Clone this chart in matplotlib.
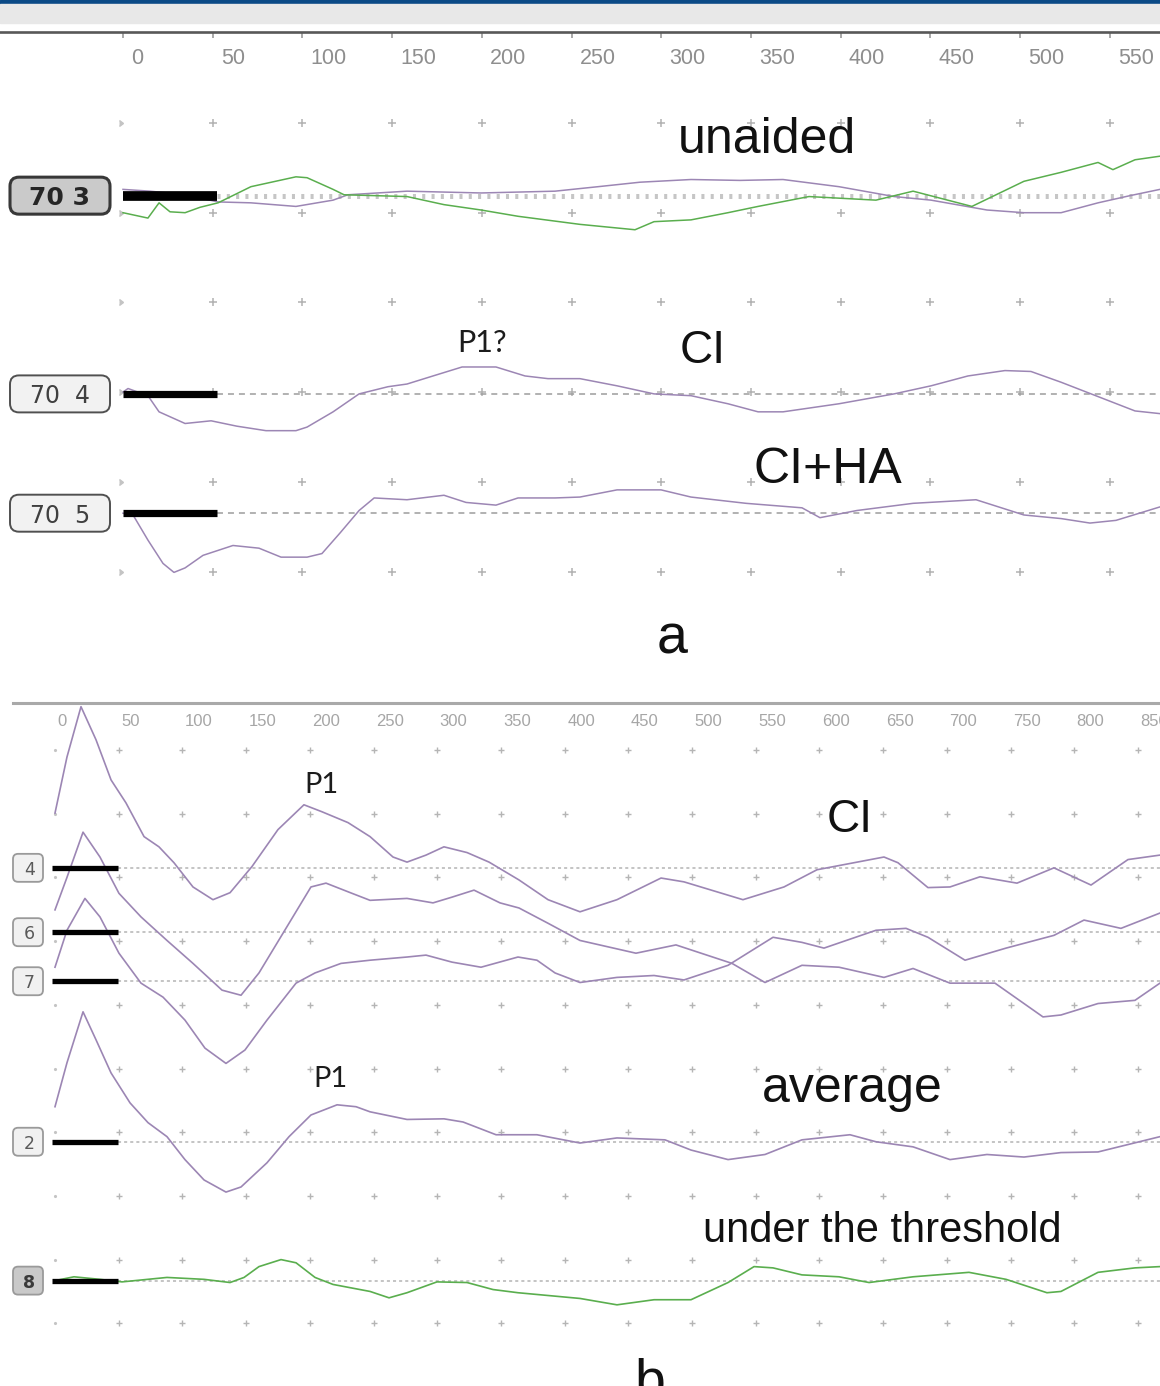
import matplotlib
matplotlib.use("Agg")
import matplotlib.pyplot as plt
import numpy as np
from matplotlib.patches import FancyBboxPatch, Rectangle
from matplotlib import font_manager

plt.rcParams['lines.scale_dashes'] = False

def pick(*names):
    avail = {f.name for f in font_manager.fontManager.ttflist}
    for n in names:
        if n in avail:
            return n
    return 'DejaVu Sans'

NARROW = pick('Liberation Sans Narrow', 'Liberation Sans', 'DejaVu Sans')
NARROW_SIZE = 17.5 if NARROW == 'Liberation Sans Narrow' else 15.5
ARIAL = pick('Liberation Sans', 'Arial', 'DejaVu Sans')
CAL = pick('Lato', 'Open Sans', 'DejaVu Sans')

# ------------------------------------------------------------------ data
# latency in ms, amplitude in grid divisions (positive = up) relative to channel baseline

# ---- panel a
a_ticks = [0, 50, 100, 150, 200, 250, 300, 350, 400, 450, 500, 550]
a_rows = [0, -1, -2, -3, -4, -5]
a_baselines = {'70 3': -0.81, '70 4': -3.02, '70 5': -4.35}

a_unaided_green_t = [0, 13.9, 20.1, 26.2, 34.6, 42.9, 53.0, 59.1, 71.3, 96.4, 102.6, 117.1, 123.2,
                     158.3, 178.9, 199.6, 220.2, 254.7, 285.4, 296.0, 316.6, 337.2, 354.0, 382.4,
                     419.7, 440.4, 473.2, 502.2, 522.9, 543.5, 551.8, 564.1, 578.0]
a_unaided_green_v = [-0.19, -0.25, -0.08, -0.18, -0.19, -0.13, -0.08, -0.02, 0.10, 0.21, 0.20, 0.07, 0.01,
                     -0.01, -0.10, -0.16, -0.23, -0.32, -0.38, -0.29, -0.27, -0.19, -0.12, -0.01,
                     -0.05, 0.05, -0.12, 0.16, 0.26, 0.37, 0.29, 0.40, 0.44]

a_unaided_purple_t = [0, 15.1, 34.6, 53.0, 71.3, 96.4, 117.1, 125.4, 158.3, 199.6, 240.8, 264.8, 288.2,
                      316.6, 343.9, 367.9, 399.1, 429.8, 450.4, 481.6, 502.2, 522.9, 543.5, 561.3, 578.0]
a_unaided_purple_v = [0.07, 0.05, 0.01, -0.07, -0.08, -0.12, -0.05, 0.01, 0.05, 0.03, 0.05, 0.10, 0.15,
                      0.18, 0.17, 0.18, 0.10, -0.01, -0.05, -0.16, -0.19, -0.19, -0.08, 0.0, 0.07]

a_ci_t = [0, 2.8, 13.9, 20.1, 34.6, 49.1, 63.5, 79.7, 96.4, 102.6, 117.1, 131.6, 147.7, 158.3, 172.8,
          189.0, 207.9, 224.1, 236.9, 254.7, 275.4, 296.0, 316.6, 337.2, 354.0, 367.9, 399.1, 429.8,
          450.4, 471.0, 491.6, 506.1, 522.9, 543.5, 564.1, 578.0]
a_ci_v = [0.02, 0.06, -0.02, -0.20, -0.33, -0.30, -0.36, -0.41, -0.41, -0.37, -0.20, 0.0, 0.08, 0.11, 0.20,
          0.30, 0.30, 0.20, 0.17, 0.17, 0.09, 0.0, -0.02, -0.11, -0.20, -0.20, -0.11, 0.0,
          0.09, 0.20, 0.26, 0.25, 0.13, -0.03, -0.19, -0.22]

a_ciha_t = [0, 5.6, 13.9, 22.3, 28.4, 34.6, 44.6, 61.3, 75.8, 88.1, 102.6, 110.9, 121.0, 131.6, 140.0,
            158.3, 178.9, 191.2, 207.9, 220.2, 240.8, 254.7, 275.4, 299.9, 316.6, 347.3, 378.5, 388.5,
            409.1, 440.4, 475.5, 502.2, 522.9, 539.0, 553.5, 578.0]
a_ciha_v = [0, -0.02, -0.30, -0.56, -0.66, -0.61, -0.47, -0.36, -0.39, -0.49, -0.49, -0.45, -0.22, 0.03, 0.17,
            0.15, 0.20, 0.12, 0.09, 0.17, 0.17, 0.18, 0.26, 0.26, 0.18, 0.11, 0.06, -0.05,
            0.03, 0.11, 0.15, -0.02, -0.06, -0.11, -0.08, 0.07]

# ---- panel b
b_ticks = [0, 50, 100, 150, 200, 250, 300, 350, 400, 450, 500, 550, 600, 650, 700, 750, 800, 850]
b_rows = [0, -1, -2, -3, -4, -5, -6, -7, -8, -9]
b_baselines = {'4': -1.85, '6': -2.86, '7': -3.63, '2': -6.15, '8': -8.33}

b4_t = [0, 9.4, 20.4, 32.2, 44.0, 55.7, 69.9, 81.6, 93.4, 108.3, 124.0, 137.4, 154.6, 175.0, 195.4,
        209.6, 230.0, 247.3, 265.3, 276.3, 291.2, 305.3, 323.4, 340.7, 364.2, 387.0, 412.1, 441.1,
        475.7, 493.7, 540.0, 572.2, 598.1, 650.7, 661.7, 685.2, 702.5, 726.1, 755.1, 784.1, 813.2,
        842.2, 867.3]
b4_v = [0.86, 1.74, 2.53, 2.01, 1.38, 1.02, 0.49, 0.33, 0.08, -0.30, -0.50, -0.39, 0.02, 0.60, 0.99,
        0.88, 0.71, 0.49, 0.17, 0.09, 0.20, 0.33, 0.24, 0.09, -0.19, -0.50, -0.69, -0.50,
        -0.16, -0.22, -0.50, -0.30, -0.03, 0.17, 0.08, -0.31, -0.30, -0.14, -0.24, 0.0, -0.27,
        0.13, 0.20]

b6_t = [0, 9.4, 22.0, 35.3, 50.2, 67.5, 87.9, 108.3, 131.1, 146.0, 160.1, 183.7, 200.9, 212.7, 233.1,
        247.3, 276.3, 296.7, 311.6, 328.9, 349.3, 364.2, 387.0, 412.1, 456.0, 487.4, 531.4, 557.3,
        586.3, 615.4, 650.7, 673.5, 702.5, 737.8, 775.5, 789.6, 818.7, 847.7, 867.3]
b6_v = [0.35, 0.86, 1.57, 1.18, 0.61, 0.24, -0.13, -0.49, -0.91, -0.99, -0.64, 0.14, 0.71, 0.77, 0.61,
        0.50, 0.53, 0.46, 0.55, 0.66, 0.46, 0.38, 0.14, -0.13, -0.33, -0.20, -0.49, -0.79,
        -0.52, -0.55, -0.71, -0.57, -0.80, -0.80, -1.33, -1.30, -1.12, -1.07, -0.80]

b7_t = [0, 9.4, 23.5, 35.3, 50.2, 67.5, 84.8, 102.0, 117.7, 134.2, 149.1, 166.4, 189.2, 204.1, 224.5,
        247.3, 276.3, 291.2, 311.6, 334.4, 363.4, 378.3, 392.5, 412.1, 441.1, 470.2, 493.7, 528.3,
        563.6, 586.3, 603.6, 644.4, 668.0, 685.2, 714.3, 746.5, 784.1, 807.7, 836.7, 867.3]
b7_v = [0.22, 0.80, 1.30, 1.01, 0.44, -0.03, -0.25, -0.61, -1.05, -1.29, -1.08, -0.61, -0.03, 0.13, 0.28,
        0.33, 0.38, 0.41, 0.30, 0.22, 0.38, 0.33, 0.13, -0.02, 0.06, 0.09, 0.02, 0.25,
        0.69, 0.61, 0.52, 0.80, 0.83, 0.69, 0.33, 0.52, 0.72, 0.96, 0.83, 1.07]

b2_t = [0, 9.4, 22.0, 32.2, 44.0, 58.9, 73.0, 87.9, 102.0, 117.0, 134.2, 146.0, 166.4, 183.7, 200.9,
        221.4, 236.3, 247.3, 276.3, 305.3, 320.3, 346.2, 378.3, 412.1, 441.1, 478.8, 499.2, 528.3,
        557.3, 586.3, 624.0, 644.4, 673.5, 702.5, 731.5, 760.6, 789.6, 818.7, 867.3]
b2_v = [0.55, 1.24, 2.04, 1.60, 1.08, 0.61, 0.30, 0.08, -0.28, -0.60, -0.79, -0.71, -0.33, 0.08, 0.42,
        0.58, 0.55, 0.47, 0.35, 0.36, 0.31, 0.11, 0.11, -0.02, 0.06, 0.03, -0.13, -0.28,
        -0.20, 0.03, 0.11, 0.0, -0.08, -0.28, -0.20, -0.24, -0.17, -0.16, 0.08]

b8_t = [0, 14.9, 35.3, 52.6, 87.9, 117.0, 137.4, 148.4, 160.1, 177.4, 189.2, 204.1, 218.2, 247.3, 262.2,
        276.3, 299.8, 323.4, 343.8, 363.4, 412.1, 441.1, 470.2, 499.2, 528.3, 548.7, 563.6, 586.3,
        615.4, 639.0, 673.5, 717.4, 746.5, 778.6, 789.6, 818.7, 847.7, 867.3]
b8_v = [0, 0.06, 0.02, -0.02, 0.05, 0.02, -0.03, 0.05, 0.22, 0.33, 0.28, 0.05, -0.06, -0.17, -0.27,
        -0.19, -0.02, -0.03, -0.14, -0.19, -0.28, -0.38, -0.30, -0.30, -0.03, 0.22, 0.20, 0.09,
        0.06, -0.03, 0.06, 0.13, 0.02, -0.19, -0.17, 0.13, 0.20, 0.22]

# ------------------------------------------------------------------ style
PURPLE = '#9c86b4'
GREEN = '#5aae4e'
W, H = 1160, 1386

fig = plt.figure(figsize=(W / 100, H / 100), dpi=100)
fig.patches.append(Rectangle((0, 1 - 4 / H), 1, 4 / H, transform=fig.transFigure,
                             color='#0b4a86', zorder=0))
fig.patches.append(Rectangle((0, 1 - 23 / H), 1, 19 / H, transform=fig.transFigure,
                             color='#e8e8e8', zorder=0))

# ================================================================== panel a
A_MS = 89.7 / 50.0   # px per ms
A_DIV = 89.7         # px per division
axa = fig.add_axes([0, 1 - 690 / H, 1, (690 - 32) / H])
axa.set_xlim(-123 / A_MS, (W - 123) / A_MS)
axa.set_ylim((123 - 690) / A_DIV, (123 - 32) / A_DIV)
for s in ('left', 'right', 'bottom'):
    axa.spines[s].set_visible(False)
axa.spines['top'].set_color('#585858')
axa.spines['top'].set_linewidth(1.9)
axa.set_yticks([])
axa.set_xticks(a_ticks)
axa.tick_params(axis='x', top=True, bottom=False, labeltop=False, labelbottom=False,
                direction='in', length=4, width=1.2, color='#9a9a9a')
axa.set_facecolor('none')

for t in a_ticks:
    axa.text(t + 4.5, 0.715, str(t), ha='left', va='center', fontsize=NARROW_SIZE,
             family=NARROW, color='#8e8e8e')

gx, gy = np.meshgrid(a_ticks[1:], a_rows)
axa.plot(gx.ravel(), gy.ravel(), ls='none', marker='+', ms=6, mew=1.1, color='#b2b2b2', zorder=1)
axa.plot([a_ticks[0]] * len(a_rows), a_rows, ls='none', marker=5, ms=4, color='#c4c4c4', zorder=1)

xmax_a = axa.get_xlim()[1]
BAR_A = 52.4
off = a_baselines['70 3']
axa.plot([BAR_A, xmax_a], [off, off], color='#c6c6c6', lw=3.6, dashes=(2.2, 4.5), zorder=2)
for ch in ('70 4', '70 5'):
    off = a_baselines[ch]
    axa.plot([BAR_A, xmax_a], [off, off], color='#9c9c9c', lw=1.1, dashes=(4.3, 3.6), zorder=2)

off = a_baselines['70 3']
axa.plot(a_unaided_purple_t, np.array(a_unaided_purple_v) + off, color=PURPLE, lw=1.1, zorder=3)
axa.plot(a_unaided_green_t, np.array(a_unaided_green_v) + off, color=GREEN, lw=1.1, zorder=3)
off = a_baselines['70 4']
axa.plot(a_ci_t, np.array(a_ci_v) + off, color=PURPLE, lw=1.1, zorder=3)
off = a_baselines['70 5']
axa.plot(a_ciha_t, np.array(a_ciha_v) + off, color=PURPLE, lw=1.1, zorder=3)

ASP = A_MS / A_DIV
for ch, off in a_baselines.items():
    sel = ch == '70 3'
    axa.plot([0, BAR_A], [off, off], color='black', lw=7 if sel else 5.2,
             solid_capstyle='butt', zorder=4)
    bw, bh = 100 / A_MS, 37 / A_DIV
    cx = (60 - 123) / A_MS
    box = FancyBboxPatch((cx - bw / 2, off - bh / 2), bw, bh,
                         boxstyle='round,pad=0,rounding_size=5', mutation_aspect=ASP,
                         facecolor='#cacaca' if sel else '#f2f2f2',
                         edgecolor='#383838' if sel else '#505050',
                         lw=2.2 if sel else 1.4, zorder=5, clip_on=False)
    axa.add_patch(box)
    axa.text(cx, off, ch.replace(' ', '  ') if not sel else ch, ha='center',
             va='center_baseline', fontsize=18 if sel else 17,
             family='DejaVu Sans', fontweight='bold' if sel else 'normal',
             color='#262626' if sel else '#404040', zorder=6)

axa.text(309, -0.334, 'unaided', family=ARIAL, fontsize=36, color='#111111', va='baseline', zorder=6)
axa.text(186.5, -2.553, 'P1?', family=CAL, fontsize=22, color='#1c1c1c', va='baseline', zorder=6)
axa.text(310.5, -2.676, 'CI', family=ARIAL, fontsize=33, color='#111111', va='baseline', zorder=6)
axa.text(351.5, -4.013, 'CI+HA', family=ARIAL, fontsize=36, color='#111111', va='baseline', zorder=6)
axa.text(297.5, -5.909, 'a', family=ARIAL, fontsize=40, color='#111111', va='baseline', zorder=6)

# ================================================================== panel b
B_MS = 63.7 / 50.0
B_DIV = 63.7
axb = fig.add_axes([0, 0, 1, (H - 703) / H])
axb.set_xlim(-55 / B_MS, (W - 55) / B_MS)
axb.set_ylim((750 - H) / B_DIV, (750 - 703) / B_DIV)
for s in ('left', 'right', 'bottom'):
    axb.spines[s].set_visible(False)
axb.spines['top'].set_color('#a9a9a9')
axb.spines['top'].set_linewidth(2.2)
axb.spines['top'].set_bounds((13 - 55) / B_MS, axb.get_xlim()[1])
axb.set_xticks([])
axb.set_yticks([])
axb.set_facecolor('none')

for t in b_ticks:
    axb.text(t + 2.0, 0.455, str(t), ha='left', va='center', fontsize=12,
             family=ARIAL, color='#a6a6a6', clip_on=False)

gx, gy = np.meshgrid(b_ticks[1:], b_rows)
axb.plot(gx.ravel(), gy.ravel(), ls='none', marker='+', ms=4.6, mew=1.0, color='#b5b5b5', zorder=1)
axb.plot([b_ticks[0]] * len(b_rows), b_rows, ls='none', marker='.', ms=2.5, color='#c4c4c4', zorder=1)

xmax_b = axb.get_xlim()[1]
BAR_B = 49.5
for ch, off in b_baselines.items():
    axb.plot([BAR_B, xmax_b], [off, off], color='#b4b4b4', lw=1.1, dashes=(2.2, 2.2), zorder=2)

for (tt, vv, ch, col) in ((b4_t, b4_v, '4', PURPLE), (b6_t, b6_v, '6', PURPLE),
                          (b7_t, b7_v, '7', PURPLE), (b2_t, b2_v, '2', PURPLE),
                          (b8_t, b8_v, '8', GREEN)):
    axb.plot(tt, np.array(vv) + b_baselines[ch], color=col, lw=1.2, zorder=3,
             solid_joinstyle='round')

ASPB = B_MS / B_DIV
for ch, off in b_baselines.items():
    sel = ch == '8'
    axb.plot([(52 - 55) / B_MS, BAR_B], [off, off], color='black', lw=3.8,
             solid_capstyle='butt', zorder=4)
    bw, bh = 30 / B_MS, 28 / B_DIV
    cx = (28 - 55) / B_MS
    box = FancyBboxPatch((cx - bw / 2, off - bh / 2), bw, bh,
                         boxstyle='round,pad=0,rounding_size=4', mutation_aspect=ASPB,
                         facecolor='#c9c9c9' if sel else '#f1f1f1',
                         edgecolor='#9a9a9a', lw=1.3, zorder=5, clip_on=False)
    axb.add_patch(box)
    axb.text(cx + 1, off, ch, ha='center', va='center_baseline', fontsize=12.5,
             family='DejaVu Sans', fontweight='bold' if sel else 'normal',
             color='#3a3a3a' if sel else '#5a5a5a', zorder=6)

axb.text(196, -0.675, 'P1', family=CAL, fontsize=21, color='#1c1c1c', va='baseline', zorder=6)
axb.text(605.5, -1.287, 'CI', family=ARIAL, fontsize=33, color='#111111', va='baseline', zorder=6)
axb.text(202.5, -5.29, 'P1', family=CAL, fontsize=21, color='#1c1c1c', va='baseline', zorder=6)
axb.text(555, -5.526, 'average', family=ARIAL, fontsize=36, color='#111111', va='baseline', zorder=6)
axb.text(508.5, -7.724, 'under the threshold', family=ARIAL, fontsize=30, color='#111111',
         va='baseline', zorder=6)
axb.text(455, -10.17, 'b', family=ARIAL, fontsize=40, color='#111111', va='baseline',
         zorder=6, clip_on=False)

fig.savefig('out.png', dpi=100, facecolor='white')
